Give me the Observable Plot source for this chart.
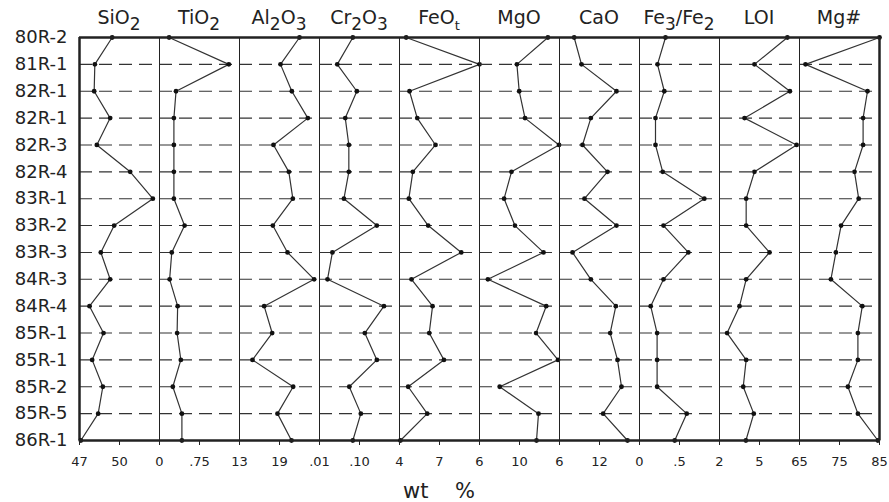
<!DOCTYPE html>
<html>
<head>
<meta charset="utf-8">
<script src="https://cdn.jsdelivr.net/npm/d3@7"></script>
<script src="https://cdn.jsdelivr.net/npm/@observablehq/plot@0.6"></script>
<style>
  body { margin: 0; background: #fff; font-family: "DejaVu Sans", sans-serif; color: #222; }
  #wrap { position: relative; width: 889px; height: 502px; overflow: hidden; background: #fff; }
  .title { position: absolute; top: 8px; width: 80px; text-align: center; font-size: 19px; line-height: 19px; white-space: nowrap; }
  .title .sb { position: relative; top: 6px; font-size: 17px; }
  .xlabel { position: absolute; top: 479px; left: 339px; width: 200px; text-align: center; font-size: 21px; white-space: pre; }
</style>
</head>
<body>
<div id="wrap"></div>
<script>
// Sample labels (rows, top to bottom)
const samples = ["80R-2","81R-1","82R-1","82R-1","82R-3","82R-4","83R-1","83R-2","83R-3","84R-3","84R-4","85R-1","85R-1","85R-2","85R-5","86R-1"];

// Series values (wt %), one per sample
const SiO2   = [49.45, 48.15, 48.1, 49.3, 48.3, 50.8, 52.5, 49.6, 48.6, 49.3, 47.75, 48.8, 47.95, 48.75, 48.4, 47.1];
const TiO2   = [0.18, 1.30, 0.31, 0.27, 0.27, 0.27, 0.27, 0.47, 0.23, 0.19, 0.34, 0.33, 0.40, 0.25, 0.42, 0.42];
const Al2O3  = [22.0, 19.15, 20.85, 23.25, 18.1, 20.4, 21.0, 18.0, 20.2, 24.2, 16.7, 17.9, 14.95, 21.05, 18.7, 20.8];
const Cr2O3  = [0.085, 0.05, 0.094, 0.068, 0.076, 0.076, 0.065, 0.139, 0.039, 0.028, 0.155, 0.112, 0.139, 0.077, 0.103, 0.085];
const FeOt   = [4.5, 10.0, 4.75, 5.33, 6.7, 5.0, 4.7, 6.15, 8.63, 4.9, 6.48, 6.23, 7.33, 4.65, 6.08, 4.07];
const MgO    = [12.84, 9.74, 9.97, 10.55, 13.95, 9.2, 8.46, 9.54, 12.4, 6.84, 12.67, 11.66, 13.85, 8.02, 11.9, 11.7];
const CaO    = [8.2, 9.3, 14.55, 10.7, 9.45, 13.2, 9.75, 14.55, 7.95, 10.7, 14.45, 13.6, 14.7, 15.3, 12.55, 16.2];
const Fe3Fe2 = [0.325, 0.225, 0.31, 0.2, 0.2, 0.29, 0.81, 0.30, 0.61, 0.30, 0.14, 0.22, 0.22, 0.22, 0.59, 0.44];
const LOI    = [7.09, 4.62, 7.28, 3.88, 7.78, 4.62, 4.0, 4.0, 5.75, 4.0, 3.5, 2.57, 4.0, 3.78, 4.57, 3.98];
const MgNum  = [85, 66.5, 82, 80.9, 80.9, 78.75, 79.8, 75.4, 74.1, 72.85, 80.7, 79.6, 79.6, 77.1, 79.6, 84.6];

// Panel headers (HTML with subscripts)
const titles = [
  "SiO<span class='sb'>2</span>", "TiO<span class='sb'>2</span>", "Al<span class='sb'>2</span>O<span class='sb'>3</span>",
  "Cr<span class='sb'>2</span>O<span class='sb'>3</span>", "FeO<span class='sb' style='font-size:13px'>t</span>", "MgO", "CaO",
  "Fe<span class='sb'>3</span>/Fe<span class='sb'>2</span>", "LOI", "Mg#"
];
// Axis domains and tick values / tick labels
const domains   = [[47,53],[0,1.5],[13,25],[0.01,0.19],[4,10],[6,14],[6,18],[0,1],[2,8],[65,85]];
const tickVals  = [[47,50],[0,0.75],[13,19],[0.01,0.10],[4,7],[6,10],[6,12],[0,0.5],[2,5],[65,75,85]];
const tickTexts = [["47","50"],["0",".75"],["13","19"],[".01",".10"],["4","7"],["6","10"],["6","12"],["0",".5"],["2","5"],["65","75","85"]];
const series = [SiO2, TiO2, Al2O3, Cr2O3, FeOt, MgO, CaO, Fe3Fe2, LOI, MgNum];

const wrap = document.getElementById("wrap");
const X0 = 79, PW = 80, PAD = 30, H = 470, MT = 37, MB = 30;
const ink = "#222";

series.forEach((vals, p) => {
  const rows = vals.map((v, i) => ({v, i}));
  const first = p === 0, last = p === series.length - 1;
  const ml = first ? X0 : PAD;
  const left = first ? 0 : X0 + p * PW - PAD;
  const marks = [
    Plot.ruleY(d3.range(1, 15), {stroke: "#333", strokeWidth: 1.1, strokeDasharray: "13,7"}),
    Plot.ruleX([domains[p][0]], {stroke: ink, strokeWidth: first ? 2.5 : 1}),
    Plot.line(rows, {x: "v", y: "i", stroke: "#333", strokeWidth: 1.2}),
    Plot.dot(rows, {x: "v", y: "i", r: 2.4, fill: "#111", stroke: "none"}),
    Plot.ruleY([0, 15], {stroke: ink, strokeWidth: 2.5}),
    Plot.axisX({
      ticks: tickVals[p],
      tickFormat: d => tickTexts[p][tickVals[p].indexOf(d)],
      tickSize: 5, tickPadding: 11, fontSize: 13, label: null, stroke: ink
    })
  ];
  if (last) marks.push(Plot.ruleX([domains[p][1]], {stroke: ink, strokeWidth: 2.5}));
  if (first) marks.push(Plot.axisY({
    ticks: d3.range(16), tickFormat: i => samples[i],
    tickSize: 0, tickPadding: 12, fontSize: 18, label: null
  }));
  const svg = Plot.plot({
    width: ml + PW + PAD,
    height: H,
    marginLeft: ml, marginRight: PAD, marginTop: MT, marginBottom: MB,
    x: {domain: domains[p]},
    y: {domain: [0, 15], reverse: true, axis: null},
    style: {background: "transparent", overflow: "visible", position: "absolute", left: left + "px", top: "0px",
            fontFamily: "DejaVu Sans, sans-serif", color: ink},
    marks
  });
  wrap.appendChild(svg);
  const t = document.createElement("div");
  t.className = "title";
  t.style.left = (X0 + p * PW) + "px";
  t.innerHTML = titles[p];
  wrap.appendChild(t);
});

const xl = document.createElement("div");
xl.className = "xlabel";
xl.textContent = "wt    %";
wrap.appendChild(xl);
</script>
</body>
</html>
